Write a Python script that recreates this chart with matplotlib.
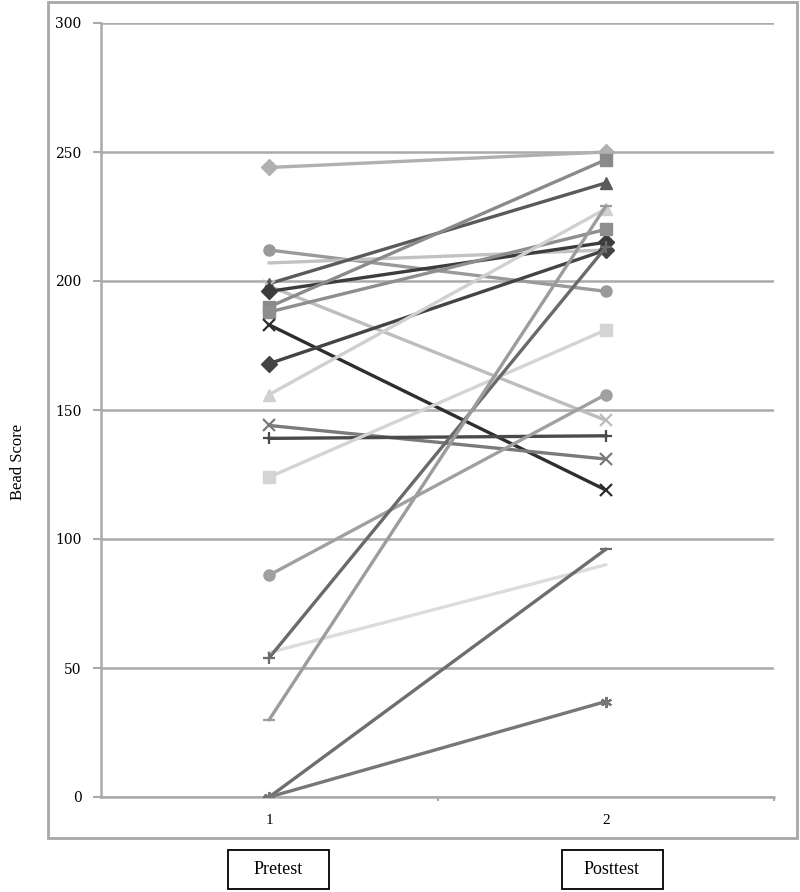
import matplotlib.pyplot as plt
from matplotlib.patches import Rectangle

# scores for each student, pretest -> posttest
pretest = [244, 212, 207, 199, 198, 196, 190, 188, 183, 168,
           156, 144, 139, 124, 86, 56, 54, 30, 0, 0]
posttest = [250, 196, 212, 238, 146, 215, 247, 220, 119, 212,
            228, 131, 140, 181, 156, 90, 213, 229, 96, 37]
markers = ['D', 'o', '', '^', 'x', 'D', 's', 's', 'x', 'D',
           '^', 'x', '+', 's', 'o', '', '+', '_', '_', (6, 2, 0)]
colors = ['#b0b0b0', '#9a9a9a', '#c2c2c2', '#5a5a5a', '#bdbdbd', '#3c3c3c',
          '#8a8a8a', '#8e8e8e', '#2e2e2e', '#444444', '#d0d0d0', '#7a7a7a',
          '#4a4a4a', '#d4d4d4', '#a0a0a0', '#dcdcdc', '#6a6a6a', '#9c9c9c',
          '#6e6e6e', '#777777']
x_ticks = [1, 2]
y_ticks = [0, 50, 100, 150, 200, 250, 300]
groups = ['Pretest', 'Posttest']

W, H = 800, 892
fig = plt.figure(figsize=(W / 100, H / 100), dpi=100)

# outer chart frame
fig.patches.append(Rectangle((48 / W, 1 - 838 / H), (797 - 48) / W, (838 - 2) / H,
                             transform=fig.transFigure, fill=False,
                             edgecolor='#a8a8a8', lw=2))

ax = fig.add_axes([101 / W, 1 - 797 / H, (774 - 101) / W, (797 - 23) / H])
ax.set_xlim(0.5, 2.5)
ax.set_ylim(0, 300)

for i in range(len(pretest)):
    ax.plot(x_ticks, [pretest[i], posttest[i]], color=colors[i], lw=2.4,
            marker=markers[i] if markers[i] != '' else None,
            markersize=9 if markers[i] in ('x', '+', '_') else 8,
            markeredgewidth=1.6 if markers[i] in ('x', '+', '_', (6, 2, 0)) else 1,
            markerfacecolor=colors[i], markeredgecolor=colors[i], zorder=3 + i)

ax.set_yticks(y_ticks)
ax.set_xticks(x_ticks)
ax.set_xticks([1.5, 2.5], minor=True)
ax.grid(axis='y', color='#aaaaaa', lw=1.8)
ax.set_axisbelow(True)
for s in ['top', 'right']:
    ax.spines[s].set_visible(False)
ax.spines['left'].set_color('#aaaaaa')
ax.spines['left'].set_linewidth(1.8)
ax.spines['bottom'].set_color('#aaaaaa')
ax.spines['bottom'].set_linewidth(1.8)
ax.tick_params(axis='y', length=6, width=1.5, color='#aaaaaa', pad=8,
               labelsize=10, labelfontfamily='DejaVu Serif')
ax.tick_params(axis='x', which='major', length=0, pad=12,
               labelsize=11, labelfontfamily='Liberation Serif')
ax.tick_params(axis='x', which='minor', length=3, width=1.5, color='#aaaaaa')

fig.text(18 / W, 1 - 462 / H, 'Bead Score', rotation=90, ha='center', va='center',
         family='Liberation Serif', fontsize=12)

# boxed group labels under the axis
for cx, name in zip([278, 612], groups):
    fig.patches.append(Rectangle(((cx - 50) / W, 1 - 889 / H), 101 / W, 39 / H,
                                 transform=fig.transFigure, fill=False,
                                 edgecolor='black', lw=1.3))
    fig.text(cx / W, 1 - 869 / H, name, ha='center', va='center',
             family='Liberation Serif', fontsize=13)

fig.savefig('out.png', dpi=100)
